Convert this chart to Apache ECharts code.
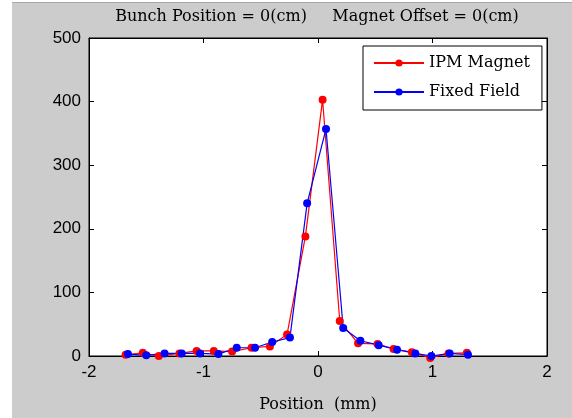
<!DOCTYPE html>
<html>
<head>
<meta charset="utf-8">
<script src="https://cdn.jsdelivr.net/npm/echarts@6/dist/echarts.min.js"></script>
<style>
  html, body { margin: 0; padding: 0; background: #ffffff; }
  #bg { position: absolute; left: 12px; top: 2px; width: 560px; height: 416px; background: #cccccc; border-top: 1px solid #a8a8a8; }
  #chart { position: absolute; left: 0; top: 0; width: 572px; height: 418px; }
</style>
</head>
<body>
<div id="bg"></div>
<div id="chart"></div>
<script>
// Data
const seriesNames = ['IPM Magnet', 'Fixed Field'];
const ipmX = [-1.68, -1.53, -1.39, -1.21, -1.06, -0.91, -0.75, -0.58, -0.42, -0.27, -0.11, 0.04, 0.19, 0.35, 0.52, 0.66, 0.82, 0.98, 1.14, 1.30];
const ipmY = [2, 5, 0, 4, 8, 8, 7, 13, 15, 34, 188, 403, 55, 20, 19, 11, 6, -3, 4, 5];
const fixedX = [-1.66, -1.50, -1.34, -1.19, -1.03, -0.87, -0.71, -0.55, -0.40, -0.245, -0.095, 0.07, 0.22, 0.37, 0.53, 0.69, 0.85, 0.99, 1.15, 1.31];
const fixedY = [3, 1, 4, 4, 4, 3, 13, 13, 22, 29, 240, 357, 44, 24, 17, 10, 4, 0, 4, 2];
const xTicks = [-2, -1, 0, 1, 2];
const yTicks = [0, 100, 200, 300, 400, 500];
const titleText = 'Bunch Position = 0(cm)     Magnet Offset = 0(cm)';
const xLabel = 'Position  (mm)';

const zip = (xs, ys) => xs.map((x, i) => [x, ys[i]]);

const chart = echarts.init(document.getElementById('chart'), null, { renderer: 'canvas' });
const serif = 'DejaVu Serif';
const sans = 'Liberation Sans';

function axisCommon() {
  return {
    axisLine: { show: true, onZero: false, lineStyle: { color: '#000', width: 1 } },
    axisTick: { show: true, inside: true, length: 5, lineStyle: { color: '#000' } },
    splitLine: { show: false }
  };
}

chart.setOption({
  backgroundColor: 'transparent',
  animation: false,
  graphic: [{
    type: 'text',
    x: 317,
    y: 17,
    style: { text: titleText, font: '16px "' + serif + '"', fill: '#000', align: 'center', verticalAlign: 'middle' }
  }],
  grid: { left: 89, right: 25, top: 38, bottom: 61, show: true, backgroundColor: '#fff', borderColor: '#000', borderWidth: 1 },
  legend: {
    data: seriesNames,
    orient: 'vertical',
    left: 363,
    top: 46,
    padding: [9, 12, 10, 10],
    itemWidth: 50,
    itemHeight: 9,
    itemGap: 13,
    itemTextGap: 5,
    backgroundColor: '#fff',
    borderColor: '#000',
    borderWidth: 1,
    borderRadius: 0,
    textStyle: { fontFamily: serif, fontSize: 16, color: '#000', lineHeight: 16 }
  },
  xAxis: [
    Object.assign(axisCommon(), {
      type: 'value', min: xTicks[0], max: xTicks[xTicks.length - 1], interval: 1, position: 'bottom',
      axisLabel: { fontFamily: sans, fontSize: 17, color: '#000', margin: 8, formatter: v => String(v) },
      name: xLabel, nameLocation: 'middle', nameGap: 41,
      nameTextStyle: { fontFamily: serif, fontSize: 16, color: '#000' }
    }),
    Object.assign(axisCommon(), {
      type: 'value', min: xTicks[0], max: xTicks[xTicks.length - 1], interval: 1, position: 'top',
      axisLabel: { show: false }
    })
  ],
  yAxis: [
    Object.assign(axisCommon(), {
      type: 'value', min: yTicks[0], max: yTicks[yTicks.length - 1], interval: 100, position: 'left',
      axisLabel: { fontFamily: sans, fontSize: 17, color: '#000', margin: 8 }
    }),
    Object.assign(axisCommon(), {
      type: 'value', min: yTicks[0], max: yTicks[yTicks.length - 1], interval: 100, position: 'right',
      axisLabel: { show: false }
    })
  ],
  series: [
    {
      name: seriesNames[0], type: 'line', data: zip(ipmX, ipmY), clip: false,
      symbol: 'circle', symbolSize: 8,
      lineStyle: { color: '#ff0000', width: 1.2 },
      itemStyle: { color: '#ff0000' }
    },
    {
      name: seriesNames[1], type: 'line', data: zip(fixedX, fixedY), clip: false,
      symbol: 'circle', symbolSize: 8,
      lineStyle: { color: '#0000ff', width: 1.2 },
      itemStyle: { color: '#0000ff' }
    }
  ]
});
</script>
</body>
</html>
